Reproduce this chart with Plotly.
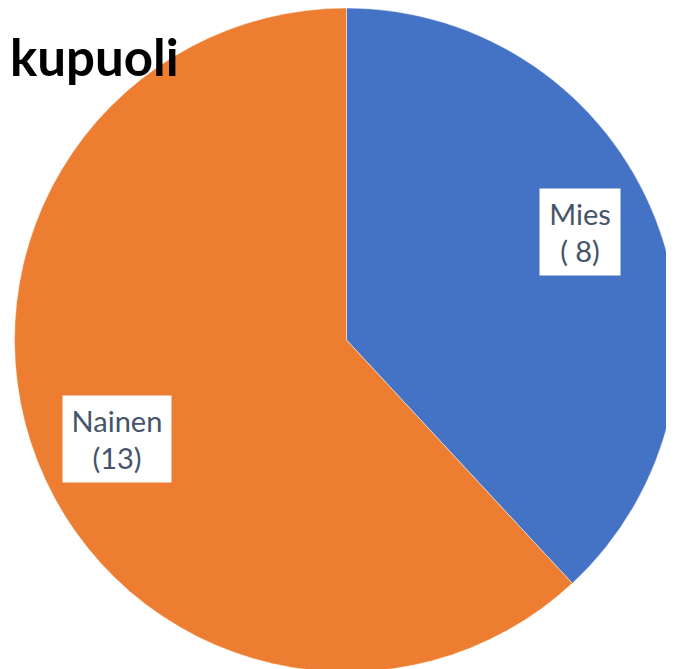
import plotly.graph_objects as go

# Sukupuoli (gender) distribution
title_text = "kupuoli"
labels = ["Mies", "Nainen"]
counts = [8, 13]
colors = ["#4472C4", "#ED7D31"]

W, H = 674, 669
OFF = 8  # page margin around the plot div

fig = go.Figure()

# pie centre (346.5, 340) and radius 332 in page pixels
cx, cy, r = 346.5 - OFF, 340 - OFF, 332
fig.add_trace(
    go.Pie(
        labels=labels,
        values=counts,
        sort=False,
        direction="clockwise",
        rotation=0,
        marker=dict(colors=colors, line=dict(color="rgba(255,255,255,0.6)", width=0.8)),
        textinfo="none",
        hoverinfo="label+value",
        showlegend=False,
        domain=dict(x=[(cx - r) / W, (cx + r) / W], y=[1 - (cy + r) / H, 1 - (cy - r) / H]),
    )
)

# data labels in white boxes
label_pos = [(579.5, 232, 80, 86), (116.5, 438.5, 108, 86)]
for lab, val, (px, py, bw, bh) in zip(labels, counts, label_pos):
    fig.add_annotation(
        x=(px - OFF) / W,
        y=1 - (py - OFF) / H,
        xref="paper",
        yref="paper",
        xanchor="center",
        yanchor="middle",
        text=f"{lab}<br>({val:>2})".replace("( ", "(&nbsp;"),
        showarrow=False,
        font=dict(family="Lato, sans-serif", size=29, color="#44546A"),
        bgcolor="white",
        width=bw,
        height=bh,
        borderpad=0,
        align="center",
    )

# title (cut off at the left in the source)
fig.add_annotation(
    x=0,
    y=1 - (57 - OFF) / H,
    xref="paper",
    yref="paper",
    xanchor="left",
    yanchor="middle",
    text=f"<b>{title_text}</b>",
    showarrow=False,
    font=dict(family="Lato, sans-serif", size=51, color="black"),
)

fig.update_layout(
    width=W,
    height=H,
    margin=dict(l=0, r=0, t=0, b=0),
    paper_bgcolor="white",
    plot_bgcolor="white",
)

fig.write_html("out.html")
